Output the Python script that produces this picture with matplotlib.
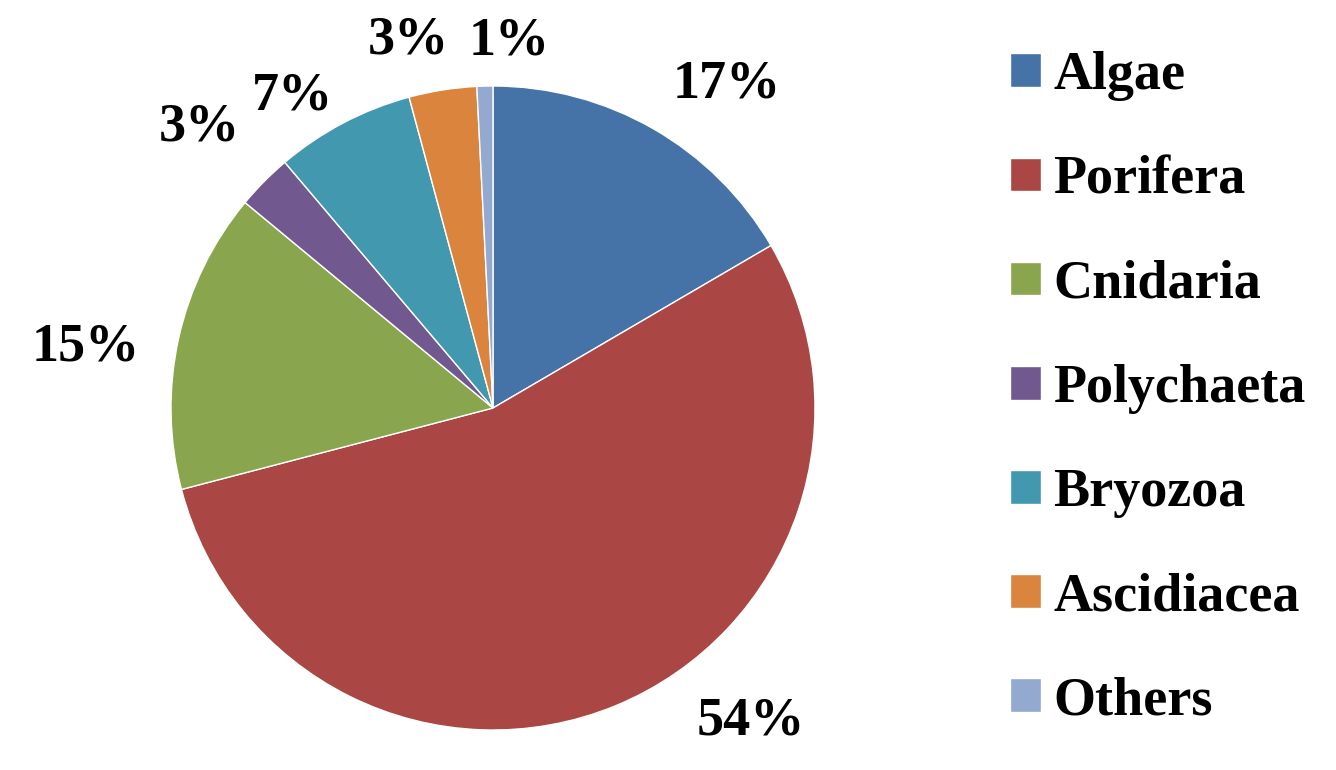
import numpy as np
import matplotlib
matplotlib.use('Agg')
import matplotlib.pyplot as plt

# share of each group
groups = ['Algae', 'Porifera', 'Cnidaria', 'Polychaeta', 'Bryozoa', 'Ascidiacea', 'Others']
shares = [16.6, 54.4, 15.1, 2.8, 7.0, 3.4, 0.8]
colours = ['#4572A7', '#AA4643', '#89A54E', '#71588F', '#4198AF', '#DB843D', '#93A9CF']

# where each percent label sits: radius (pie radius = 1) and angle nudge in degrees
label_r = [1.24, 1.26, 1.28, 1.26, 1.15, 1.17, 1.14]
label_turn = [-6, 17, 4, 1, 5, 4, -4]

plt.rcParams['font.family'] = ['Liberation Serif', 'DejaVu Serif']
plt.rcParams['font.weight'] = 'bold'

fig = plt.figure(figsize=(13.36, 7.7), dpi=100)
ax = fig.add_axes([171 / 1336, (770 - 408 - 322) / 770, 644 / 1336, 644 / 770])

wedges, _ = ax.pie(shares, colors=colours, startangle=90, counterclock=False,
                   radius=1, wedgeprops=dict(edgecolor='white', linewidth=1))
ax.set_xlim(-1, 1)
ax.set_ylim(-1, 1)
ax.set_aspect('equal')
ax.axis('off')

total = sum(shares)
for w, val, r, turn in zip(wedges, shares, label_r, label_turn):
    mid = np.deg2rad((w.theta1 + w.theta2) / 2 + turn)
    ax.text(r * np.cos(mid), r * np.sin(mid), f'{val / total * 100:.0f}%',
            ha='center', va='center', fontsize=39, fontweight='bold')

fig.legend(wedges, groups, loc='center left', bbox_to_anchor=(1010 / 1336, 0.495),
           frameon=False, fontsize=39, handlelength=0.58, handleheight=0.58,
           handletextpad=0.22, labelspacing=1.0, borderpad=0, borderaxespad=0)

fig.savefig('out.png', dpi=100)
